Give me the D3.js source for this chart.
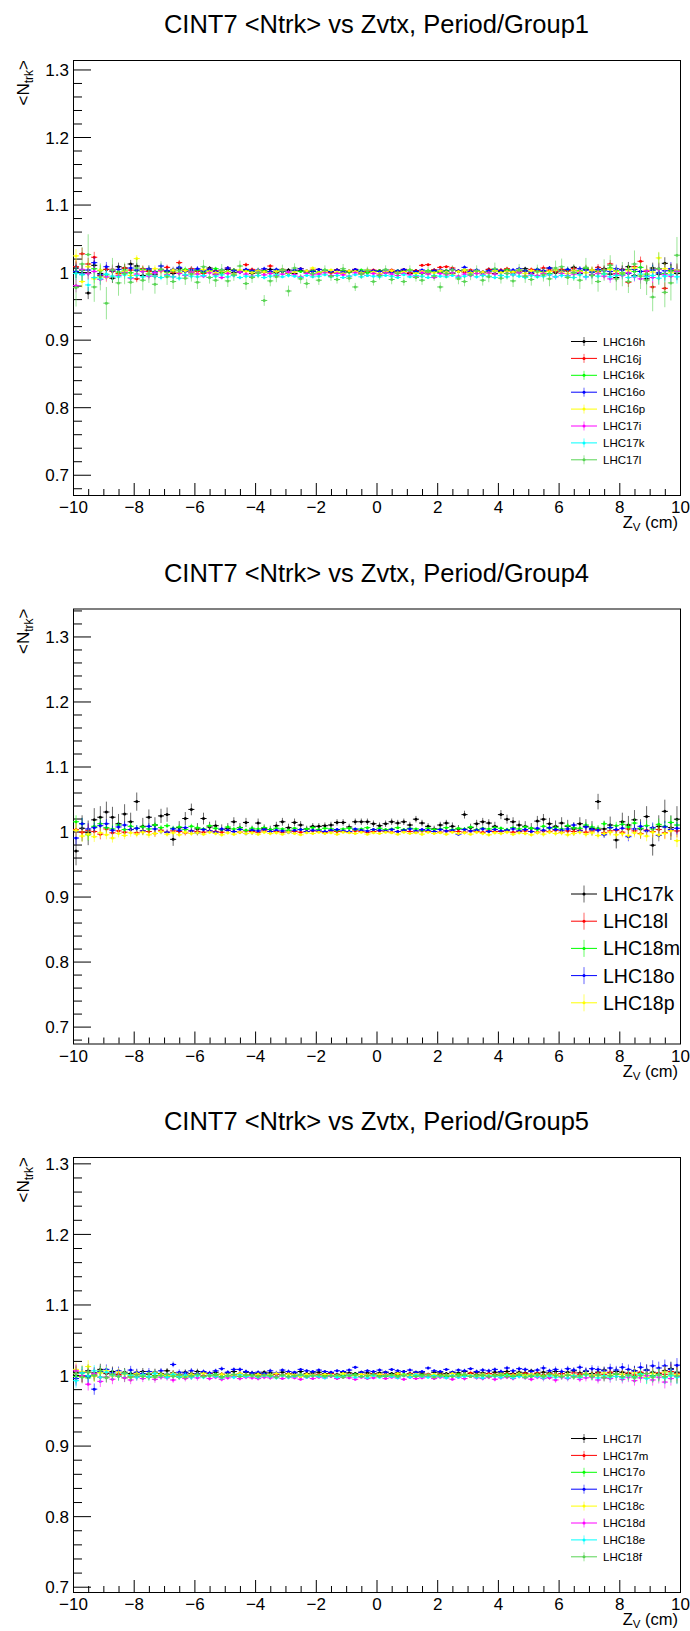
<!DOCTYPE html>
<html>
<head>
<meta charset="utf-8">
<script src="https://cdn.jsdelivr.net/npm/d3@7"></script>
<style>
  body { margin: 0; background: #fff; }
  svg { display: block; font-family: "Liberation Sans", Arial, Helvetica, sans-serif; }
</style>
</head>
<body>
<div id="chart"></div>
<script>
// Bin centres of the Zvtx histograms (cm)
const zBins = [
	-9.9, -9.7, -9.5, -9.3, -9.1, -8.9, -8.7, -8.5, -8.3, -8.1,
	-7.9, -7.7, -7.5, -7.3, -7.1, -6.9, -6.7, -6.5, -6.3, -6.1,
	-5.9, -5.7, -5.5, -5.3, -5.1, -4.9, -4.7, -4.5, -4.3, -4.1,
	-3.9, -3.7, -3.5, -3.3, -3.1, -2.9, -2.7, -2.5, -2.3, -2.1,
	-1.9, -1.7, -1.5, -1.3, -1.1, -0.9, -0.7, -0.5, -0.3, -0.1,
	0.1, 0.3, 0.5, 0.7, 0.9, 1.1, 1.3, 1.5, 1.7, 1.9,
	2.1, 2.3, 2.5, 2.7, 2.9, 3.1, 3.3, 3.5, 3.7, 3.9,
	4.1, 4.3, 4.5, 4.7, 4.9, 5.1, 5.3, 5.5, 5.7, 5.9,
	6.1, 6.3, 6.5, 6.7, 6.9, 7.1, 7.3, 7.5, 7.7, 7.9,
	8.1, 8.3, 8.5, 8.7, 8.9, 9.1, 9.3, 9.5, 9.7, 9.9
];
const binHalfWidth = 0.1;

const xMajorTicks = [-10, -8, -6, -4, -2, 0, 2, 4, 6, 8, 10];
const yMajorTicks = [0.7, 0.8, 0.9, 1.0, 1.1, 1.2, 1.3];

const seriesColors = ["#000000", "#ff0000", "#00ff00", "#0000ff", "#ffff00", "#ff00ff", "#00ffff", "#59d454"];

const titles = [
	"CINT7 <Ntrk> vs Zvtx, Period/Group1",
	"CINT7 <Ntrk> vs Zvtx, Period/Group4",
	"CINT7 <Ntrk> vs Zvtx, Period/Group5"
];
const yRanges = [[0.670, 1.314], [0.674, 1.343], [0.6925, 1.309]];

const names1 = ["LHC16h", "LHC16j", "LHC16k", "LHC16o", "LHC16p", "LHC17i", "LHC17k", "LHC17l"];
const names2 = ["LHC17k", "LHC18l", "LHC18m", "LHC18o", "LHC18p"];
const names3 = ["LHC17l", "LHC17m", "LHC17o", "LHC17r", "LHC18c", "LHC18d", "LHC18e", "LHC18f"];

// error bar sizes
const errSmall = [
	.010, .009, .009, .008, .008, .007, .007, .006, .006, .006,
	.005, .005, .005, .005, .004, .004, .004, .004, .004, .004,
	.004, .003, .003, .003, .003, .003, .003, .003, .003, .003,
	.003, .003, .003, .003, .002, .003, .002, .002, .002, .002,
	.002, .002, .002, .002, .002, .002, .002, .002, .002, .002,
	.002, .002, .002, .002, .002, .002, .002, .002, .002, .002,
	.002, .002, .002, .002, .003, .002, .003, .003, .003, .003,
	.003, .003, .003, .003, .003, .003, .003, .004, .003, .004,
	.004, .004, .004, .004, .005, .005, .005, .005, .006, .006,
	.006, .007, .007, .007, .008, .008, .009, .009, .010, .010
];
const errWide1 = [
	.028, .025, .030, .022, .020, .024, .018, .019, .016, .017,
	.014, .015, .013, .014, .012, .012, .011, .012, .010, .011,
	.010, .010, .009, .010, .009, .009, .009, .008, .009, .008,
	.008, .008, .008, .008, .007, .008, .007, .007, .007, .007,
	.007, .007, .007, .006, .007, .006, .006, .007, .006, .006,
	.006, .006, .007, .006, .006, .007, .006, .007, .007, .007,
	.007, .007, .007, .008, .007, .008, .008, .008, .008, .009,
	.008, .009, .009, .009, .010, .009, .010, .010, .011, .011,
	.012, .011, .012, .013, .014, .013, .015, .016, .015, .017,
	.018, .017, .020, .019, .022, .021, .024, .022, .026, .027
];
const errWide2 = [
	.022, .020, .019, .018, .017, .016, .016, .015, .015, .014,
	.014, .013, .012, .012, .011, .011, .010, .010, .010, .009,
	.009, .009, .008, .008, .008, .008, .007, .007, .007, .007,
	.007, .006, .006, .006, .006, .006, .006, .006, .005, .005,
	.005, .005, .005, .005, .005, .005, .005, .005, .005, .005,
	.005, .005, .005, .005, .005, .005, .005, .005, .005, .005,
	.005, .005, .006, .006, .006, .006, .006, .006, .006, .007,
	.007, .007, .007, .007, .008, .008, .008, .008, .009, .009,
	.009, .010, .010, .010, .011, .011, .012, .012, .013, .013,
	.014, .014, .015, .015, .016, .016, .017, .018, .019, .020
];

// ---- Period/Group1 ----
const p1_LHC16h = [
	1.006, 1.003, 0.969, 1.010, 0.998, 1.004, 0.991, 1.008, 1.006, 1.012,
	1.009, 0.995, 1.003, 0.997, 1.004, 1.001, 0.998, 1.005, 1.002, 0.999,
	1.003, 1.000, 1.006, 0.997, 1.002, 1.004, 0.999, 1.001, 1.003, 0.998,
	1.002, 1.000, 1.004, 0.999, 1.001, 1.003, 0.998, 1.002, 1.000, 1.001,
	0.999, 1.002, 1.000, 1.003, 0.998, 1.001, 1.002, 0.999, 1.000, 1.001,
	1.002, 0.999, 1.001, 1.000, 1.003, 0.998, 1.002, 1.001, 0.999, 1.003,
	1.000, 1.002, 0.998, 1.001, 1.003, 0.999, 1.002, 1.000, 1.004, 0.998,
	1.001, 1.003, 0.999, 1.002, 1.005, 0.998, 1.003, 1.001, 1.006, 0.999,
	1.003, 1.002, 1.007, 0.998, 1.004, 0.996, 1.001, 1.005, 0.997, 0.992,
	1.004, 1.008, 0.995, 1.001, 0.990, 1.006, 0.997, 1.013, 1.002, 0.998
];
const p1_LHC16j = [
	1.008, 1.027, 1.012, 1.022, 0.995, 1.004, 1.001, 0.998, 1.006, 1.003,
	0.990, 1.005, 1.001, 0.994, 1.003, 1.007, 1.000, 1.014, 1.002, 1.005,
	1.001, 0.998, 1.004, 1.002, 0.999, 1.006, 1.003, 1.001, 1.011, 1.004,
	0.999, 1.003, 1.009, 1.001, 1.004, 0.998, 1.002, 1.005, 1.000, 1.003,
	1.004, 1.001, 0.999, 1.003, 1.002, 1.000, 1.004, 0.998, 1.001, 1.003,
	1.002, 1.000, 1.003, 1.001, 1.004, 0.999, 1.002, 1.010, 1.011, 1.003,
	1.007, 1.008, 1.006, 1.002, 1.000, 1.003, 1.001, 0.999, 1.004, 1.002,
	1.003, 1.005, 1.000, 1.002, 1.001, 1.004, 1.002, 1.006, 1.003, 1.001,
	1.004, 1.002, 1.005, 1.001, 1.006, 1.003, 1.007, 1.004, 1.012, 0.998,
	1.004, 0.985, 1.008, 1.016, 1.001, 0.978, 1.005, 0.976, 1.003, 1.002
];
const p1_LHC16k = [
	1.001, 1.003, 0.998, 1.005, 1.002, 0.996, 1.004, 1.000, 1.003, 0.999,
	1.002, 1.004, 0.998, 1.001, 1.003, 1.000, 1.002, 0.999, 1.004, 1.001,
	1.003, 1.000, 1.002, 1.005, 0.999, 1.001, 1.003, 1.000, 1.002, 1.001,
	0.999, 1.002, 1.000, 1.003, 1.001, 0.998, 1.002, 1.001, 0.999, 1.002,
	1.000, 1.003, 1.001, 0.999, 1.002, 1.000, 1.001, 1.003, 0.999, 1.001,
	1.002, 1.000, 0.999, 1.002, 1.001, 1.003, 1.000, 0.998, 1.002, 1.001,
	1.000, 1.002, 0.999, 1.001, 1.003, 1.000, 1.002, 0.999, 1.001, 1.002,
	1.000, 1.003, 1.001, 0.999, 1.002, 1.000, 1.004, 1.001, 0.998, 1.003,
	1.001, 1.004, 0.999, 1.002, 1.005, 1.000, 1.003, 0.998, 1.006, 1.002,
	0.999, 1.004, 1.001, 1.007, 0.997, 1.003, 1.005, 0.998, 1.002, 1.000
];
const p1_LHC16o = [
	1.001, 0.997, 1.003, 1.014, 0.996, 1.008, 1.002, 1.004, 1.000, 1.006,
	1.003, 1.001, 1.005, 1.000, 1.009, 1.002, 1.004, 1.007, 1.001, 1.003,
	1.005, 1.002, 1.004, 1.001, 1.003, 1.006, 1.002, 1.000, 1.004, 1.002,
	1.003, 1.005, 1.001, 1.004, 1.002, 1.000, 1.003, 1.005, 1.002, 1.001,
	1.004, 1.002, 1.001, 1.003, 1.000, 1.002, 1.004, 1.001, 1.003, 1.002,
	1.001, 1.003, 1.000, 1.002, 1.004, 1.002, 1.001, 1.003, 1.000, 1.002,
	1.003, 1.001, 1.004, 1.002, 1.007, 1.001, 1.003, 1.000, 1.002, 1.004,
	1.002, 1.001, 1.003, 1.005, 1.002, 1.000, 1.004, 1.002, 1.006, 1.003,
	1.001, 1.004, 1.002, 1.005, 1.003, 1.000, 1.004, 1.002, 1.001, 1.005,
	1.003, 0.998, 1.004, 1.001, 0.994, 1.003, 0.999, 1.002, 1.005, 1.003
];
const p1_LHC16p = [
	1.024, 0.986, 1.008, 0.990, 1.003, 0.992, 1.004, 0.996, 1.001, 0.995,
	1.020, 1.002, 0.998, 1.005, 1.001, 0.997, 1.003, 0.999, 1.002, 1.000,
	0.998, 1.004, 1.001, 0.999, 1.002, 1.000, 0.997, 1.003, 1.001, 0.999,
	1.002, 1.000, 0.998, 1.001, 1.003, 0.999, 1.000, 0.992, 1.002, 1.006,
	0.999, 1.001, 1.003, 1.000, 0.998, 1.002, 1.001, 0.999, 1.003, 1.000,
	0.998, 1.001, 1.002, 0.999, 1.000, 1.003, 0.998, 1.001, 1.000, 0.999,
	1.002, 1.000, 0.997, 1.001, 1.003, 0.999, 1.001, 1.000, 0.998, 1.002,
	0.999, 1.001, 1.000, 1.003, 0.998, 1.002, 1.000, 0.999, 1.001, 1.003,
	1.000, 0.998, 1.002, 1.001, 0.999, 1.003, 1.000, 0.997, 1.004, 1.001,
	0.998, 1.002, 1.006, 0.996, 1.003, 1.000, 1.021, 1.005, 0.999, 1.003
];
const p1_LHC17i = [
	0.980, 1.004, 0.998, 1.001, 0.989, 0.993, 1.004, 0.995, 0.999, 0.991,
	0.997, 1.001, 0.994, 0.999, 1.002, 0.996, 0.993, 0.998, 0.995, 1.000,
	0.997, 0.994, 0.999, 0.996, 0.992, 0.998, 0.995, 1.000, 0.997, 0.994,
	0.999, 0.996, 0.998, 0.995, 0.997, 1.000, 0.996, 0.993, 0.998, 0.996,
	0.997, 0.999, 0.995, 0.998, 0.996, 0.994, 0.999, 0.997, 0.995, 0.998,
	0.996, 0.999, 0.997, 0.995, 0.998, 0.996, 0.994, 0.999, 0.997, 0.992,
	0.998, 0.996, 0.999, 0.994, 0.997, 0.995, 0.998, 0.996, 0.999, 0.997,
	0.995, 0.998, 0.996, 0.999, 0.994, 0.997, 0.995, 0.998, 0.996, 0.993,
	0.998, 0.995, 0.997, 0.999, 0.993, 0.996, 0.998, 0.994, 0.990, 0.997,
	0.995, 0.999, 0.993, 0.990, 1.002, 0.992, 1.004, 0.996, 0.994, 1.001
];
const p1_LHC17k = [
	0.998, 0.996, 0.981, 0.992, 0.990, 0.997, 0.994, 0.993, 0.996, 0.992,
	0.995, 0.993, 0.996, 0.994, 0.992, 0.995, 0.993, 0.991, 0.996, 0.994,
	0.993, 0.995, 0.992, 0.994, 0.996, 0.993, 0.995, 0.992, 0.994, 0.993,
	0.995, 0.992, 0.994, 0.996, 0.993, 0.995, 0.994, 0.992, 0.995, 0.993,
	0.994, 0.996, 0.993, 0.995, 0.992, 0.994, 0.996, 0.993, 0.995, 0.994,
	0.993, 0.995, 0.994, 0.992, 0.996, 0.993, 0.995, 0.994, 0.992, 0.995,
	0.994, 0.993, 0.995, 0.992, 0.994, 0.996, 0.993, 0.995, 0.994, 0.992,
	0.995, 0.993, 0.996, 0.994, 0.992, 0.995, 0.993, 0.994, 0.996, 0.993,
	0.995, 0.994, 0.992, 0.996, 0.993, 0.995, 0.994, 0.997, 0.993, 0.995,
	0.996, 0.992, 0.994, 0.997, 0.993, 0.995, 0.991, 0.994, 0.996, 0.993
];
const p1_LHC17l = [
	0.977, 1.012, 1.026, 0.978, 0.993, 0.954, 1.003, 0.984, 0.998, 0.985,
	1.006, 0.988, 0.997, 0.982, 1.004, 0.993, 0.986, 1.002, 0.991, 0.997,
	0.985, 1.008, 0.992, 0.988, 1.003, 0.987, 0.996, 1.009, 0.983, 0.992,
	0.999, 0.958, 0.987, 0.993, 1.004, 0.972, 1.006, 0.990, 0.983, 0.998,
	0.988, 1.003, 0.994, 0.989, 1.005, 0.991, 0.978, 0.997, 1.002, 0.986,
	0.995, 1.004, 0.989, 0.998, 0.986, 1.003, 0.992, 0.988, 1.001, 0.994,
	0.978, 0.998, 1.003, 0.990, 0.986, 0.996, 1.002, 0.988, 0.993, 1.005,
	0.991, 0.998, 0.987, 1.003, 0.994, 0.989, 1.001, 0.996, 0.990, 1.006,
	1.008, 0.992, 0.999, 0.988, 1.007, 0.995, 0.986, 1.003, 1.010, 0.990,
	0.997, 0.986, 1.012, 0.994, 0.988, 0.963, 1.005, 0.970, 0.984, 1.025
];

// ---- Period/Group4 ----
const p2_LHC17k = [
	0.970, 1.005, 0.998, 1.018, 1.022, 1.030, 1.022, 1.012, 1.027, 1.015,
	1.046, 1.008, 1.022, 1.010, 1.024, 1.026, 0.988, 1.006, 1.020, 1.034,
	1.004, 1.020, 1.007, 1.009, 1.003, 1.005, 1.015, 1.006, 1.014, 1.002,
	1.013, 1.005, 1.003, 1.009, 1.015, 1.006, 1.014, 1.010, 1.004, 1.008,
	1.008, 1.009, 1.010, 1.014, 1.014, 1.007, 1.015, 1.015, 1.015, 1.012,
	1.009, 1.012, 1.015, 1.013, 1.015, 1.010, 1.019, 1.013, 1.008, 1.004,
	1.010, 1.013, 1.008, 1.004, 1.026, 1.006, 1.012, 1.015, 1.013, 1.008,
	1.026, 1.019, 1.015, 1.010, 1.008, 1.005, 1.016, 1.019, 1.012, 1.008,
	1.013, 1.008, 1.004, 1.012, 1.008, 1.005, 1.046, 1.004, 1.010, 0.987,
	1.015, 1.010, 1.018, 1.004, 1.023, 0.979, 1.008, 1.031, 1.006, 1.019
];
const p2_LHC18l = [
	1.003, 0.999, 1.002, 1.000, 0.996, 1.004, 0.998, 1.001, 0.999, 1.003,
	0.998, 1.001, 1.000, 0.997, 1.002, 0.999, 1.001, 1.000, 0.998, 1.001,
	1.000, 0.999, 1.001, 1.000, 0.999, 1.002, 1.000, 0.999, 1.001, 1.000,
	0.999, 1.001, 1.000, 1.000, 0.999, 1.001, 1.000, 0.999, 1.000, 1.001,
	1.000, 0.999, 1.001, 1.000, 1.000, 0.999, 1.001, 1.000, 0.999, 1.000,
	1.001, 1.000, 0.999, 1.000, 1.001, 1.000, 0.999, 1.001, 1.000, 1.000,
	0.999, 1.001, 1.000, 1.000, 0.999, 1.001, 1.000, 0.999, 1.001, 1.000,
	1.000, 1.001, 0.999, 1.000, 1.001, 1.000, 0.999, 1.001, 1.000, 1.002,
	0.999, 1.001, 1.000, 1.002, 0.999, 1.001, 1.003, 0.998, 1.001, 1.002,
	0.999, 1.004, 1.001, 0.997, 1.002, 1.000, 1.003, 0.998, 1.002, 1.001
];
const p2_LHC18m = [
	1.015, 1.012, 0.995, 1.008, 1.012, 1.006, 1.004, 1.010, 1.003, 1.008,
	1.005, 1.007, 1.004, 1.010, 1.006, 1.009, 1.005, 1.007, 1.003, 1.008,
	1.006, 1.004, 1.009, 1.005, 1.003, 1.007, 1.004, 1.006, 1.002, 1.005,
	1.004, 1.006, 1.003, 1.005, 1.004, 1.002, 1.005, 1.003, 1.004, 1.006,
	1.003, 1.005, 1.004, 1.002, 1.004, 1.005, 1.003, 1.004, 1.006, 1.003,
	1.005, 1.003, 1.004, 1.006, 1.003, 1.005, 1.004, 1.002, 1.005, 1.003,
	1.004, 1.006, 1.003, 1.005, 1.004, 1.007, 1.003, 1.005, 1.004, 1.006,
	1.005, 1.003, 1.006, 1.004, 1.007, 1.005, 1.003, 1.008, 1.005, 1.006,
	1.004, 1.009, 1.006, 1.005, 1.010, 1.007, 1.005, 1.012, 1.006, 1.009,
	1.011, 1.007, 1.013, 1.005, 1.009, 1.004, 1.011, 1.008, 1.014, 1.010
];
const p2_LHC18o = [
	0.990, 1.012, 1.004, 1.006, 1.009, 1.012, 1.002, 1.007, 1.010, 1.003,
	1.005, 1.001, 1.008, 1.004, 1.000, 0.999, 1.004, 1.002, 1.006, 1.001,
	0.998, 1.003, 1.001, 0.999, 1.004, 1.002, 1.000, 1.003, 0.997, 1.002,
	1.001, 1.003, 1.000, 1.002, 1.001, 0.999, 1.002, 1.003, 1.000, 1.002,
	1.001, 1.000, 1.002, 1.003, 1.001, 1.000, 1.004, 1.002, 1.001, 1.003,
	1.002, 1.001, 1.003, 1.000, 1.002, 1.004, 1.001, 1.003, 1.002, 1.000,
	1.003, 1.001, 1.002, 0.996, 1.003, 1.001, 1.002, 1.004, 1.000, 1.003,
	1.001, 1.002, 1.004, 1.001, 1.003, 1.000, 1.005, 1.002, 1.006, 1.003,
	1.002, 1.004, 1.010, 1.001, 1.007, 1.003, 1.002, 0.995, 1.006, 1.003,
	1.005, 0.992, 1.004, 1.008, 1.001, 1.006, 0.994, 1.007, 1.003, 1.005
];
const p2_LHC18p = [
	1.002, 0.993, 0.996, 0.992, 0.998, 0.995, 0.990, 0.997, 0.994, 0.998,
	0.996, 0.999, 0.995, 0.997, 1.000, 0.996, 0.998, 0.995, 0.999, 0.997,
	0.998, 0.996, 0.999, 0.997, 0.995, 0.998, 0.996, 0.999, 0.997, 0.998,
	0.996, 0.999, 0.997, 0.998, 0.996, 0.999, 0.997, 0.995, 0.998, 0.997,
	0.999, 0.997, 0.998, 0.996, 0.999, 0.998, 0.997, 0.999, 0.996, 0.998,
	0.997, 0.999, 0.998, 0.996, 0.999, 0.997, 0.998, 0.996, 0.999, 0.997,
	0.998, 0.996, 0.999, 0.997, 0.998, 0.996, 0.999, 0.997, 0.995, 0.998,
	0.997, 0.999, 0.996, 0.998, 0.997, 0.995, 0.998, 0.996, 0.999, 0.997,
	0.998, 0.995, 0.997, 0.999, 0.996, 0.998, 0.994, 0.997, 0.999, 0.995,
	0.997, 0.994, 0.998, 0.996, 0.993, 0.999, 0.995, 0.997, 1.001, 0.986
];

// ---- Period/Group5 ----
const p3_LHC17l = [
	1.004, 0.999, 1.006, 1.003, 1.008, 1.002, 1.005, 1.001, 1.004, 1.002,
	1.003, 1.005, 1.001, 1.004, 1.002, 1.006, 1.003, 1.001, 1.004, 1.002,
	1.005, 1.003, 1.002, 1.004, 1.001, 1.003, 1.005, 1.002, 1.004, 1.003,
	1.002, 1.004, 1.003, 1.001, 1.004, 1.002, 1.003, 1.005, 1.002, 1.003,
	1.004, 1.002, 1.003, 1.001, 1.004, 1.003, 1.002, 1.004, 1.003, 1.002,
	1.003, 1.004, 1.002, 1.003, 1.005, 1.002, 1.004, 1.003, 1.001, 1.004,
	1.003, 1.002, 1.004, 1.003, 1.005, 1.002, 1.004, 1.003, 1.002, 1.004,
	1.003, 1.005, 1.002, 1.004, 1.003, 1.006, 1.002, 1.004, 1.003, 1.005,
	1.002, 1.004, 1.006, 1.003, 1.005, 1.002, 1.004, 1.007, 1.003, 1.005,
	1.004, 1.002, 1.006, 1.003, 1.007, 1.004, 1.002, 1.006, 1.009, 1.004
];
const p3_LHC17m = [
	1.002, 0.998, 1.004, 1.000, 0.997, 1.003, 0.999, 1.001, 1.002, 0.998,
	1.001, 1.000, 1.002, 0.999, 1.001, 1.000, 1.002, 0.999, 1.001, 1.000,
	1.001, 0.999, 1.002, 1.000, 1.001, 0.999, 1.000, 1.002, 1.000, 1.001,
	1.000, 1.001, 0.999, 1.001, 1.000, 1.002, 1.000, 0.999, 1.001, 1.000,
	1.001, 1.000, 1.002, 1.000, 0.999, 1.001, 1.000, 1.001, 1.000, 1.002,
	1.000, 1.001, 0.999, 1.001, 1.000, 1.002, 1.001, 1.000, 1.001, 0.999,
	1.001, 1.000, 1.002, 1.001, 1.000, 1.003, 1.001, 1.000, 1.002, 1.001,
	1.000, 1.002, 1.001, 1.000, 1.002, 1.001, 1.003, 1.000, 1.002, 1.001,
	1.002, 1.000, 1.003, 1.001, 1.002, 1.000, 1.003, 1.001, 1.004, 1.002,
	1.001, 1.003, 1.000, 1.004, 1.002, 0.999, 1.003, 1.001, 1.005, 1.002
];
const p3_LHC17o = [
	0.998, 1.003, 0.996, 1.000, 1.004, 0.997, 1.001, 0.999, 0.996, 1.000,
	0.998, 1.000, 0.997, 0.999, 1.001, 0.998, 1.000, 0.997, 0.999, 0.998,
	1.000, 0.998, 0.999, 1.001, 0.998, 0.999, 1.000, 0.998, 0.999, 1.000,
	0.998, 0.999, 1.000, 0.998, 0.999, 1.001, 0.999, 0.998, 1.000, 0.999,
	0.998, 1.000, 0.999, 0.998, 1.000, 0.999, 1.001, 0.998, 0.999, 1.000,
	0.999, 0.998, 1.000, 0.999, 1.001, 0.998, 0.999, 1.000, 0.998, 0.999,
	1.000, 0.998, 0.999, 1.001, 0.999, 0.998, 1.000, 0.999, 0.998, 1.000,
	0.999, 1.001, 0.998, 0.999, 1.000, 0.998, 1.001, 0.999, 0.997, 1.000,
	0.998, 1.000, 0.999, 0.997, 1.001, 0.998, 1.000, 0.996, 0.999, 1.001,
	0.997, 1.000, 0.998, 1.002, 0.996, 0.999, 1.001, 0.997, 1.000, 0.998
];
const p3_LHC17r = [
	0.995, 1.004, 0.998, 0.980, 1.005, 1.008, 1.003, 1.006, 1.002, 1.007,
	1.004, 1.002, 1.005, 1.003, 1.006, 1.001, 1.015, 1.004, 1.003, 1.006,
	1.002, 1.005, 1.003, 1.006, 1.009, 1.004, 1.008, 1.008, 1.005, 1.003,
	1.004, 1.002, 1.006, 1.003, 1.007, 1.005, 1.004, 1.008, 1.006, 1.005,
	1.007, 1.005, 1.004, 1.006, 1.005, 1.007, 1.011, 1.004, 1.006, 1.005,
	1.007, 1.004, 1.008, 1.006, 1.005, 1.007, 1.004, 1.005, 1.010, 1.006,
	1.005, 1.008, 1.004, 1.007, 1.006, 1.009, 1.005, 1.007, 1.006, 1.008,
	1.005, 1.010, 1.006, 1.009, 1.008, 1.005, 1.007, 1.010, 1.006, 1.008,
	1.005, 1.009, 1.007, 1.011, 1.006, 1.009, 1.008, 1.006, 1.010, 1.007,
	1.011, 1.008, 1.006, 1.011, 1.007, 1.013, 1.010, 1.013, 1.008, 1.014
];
const p3_LHC18c = [
	1.008, 1.005, 1.012, 0.998, 1.003, 1.006, 0.999, 1.004, 1.001, 0.997,
	1.002, 1.000, 0.998, 1.003, 1.001, 0.999, 1.002, 1.000, 0.998, 1.001,
	0.999, 1.002, 1.000, 0.998, 1.001, 1.000, 0.999, 1.002, 1.000, 0.999,
	1.001, 0.999, 1.000, 1.002, 0.999, 1.001, 1.000, 0.998, 1.001, 1.000,
	0.999, 1.001, 1.000, 0.999, 1.002, 1.000, 0.999, 1.001, 1.000, 0.998,
	1.001, 1.000, 0.999, 1.002, 1.000, 0.999, 1.001, 0.998, 1.000, 1.001,
	0.999, 1.000, 1.002, 0.999, 1.001, 1.000, 0.998, 1.001, 1.000, 0.999,
	1.001, 0.999, 1.000, 1.002, 0.999, 1.001, 1.000, 0.998, 1.001, 1.000,
	0.999, 1.001, 1.000, 0.998, 1.002, 1.000, 0.999, 1.003, 1.000, 0.998,
	1.001, 0.999, 1.003, 1.000, 0.997, 1.002, 1.000, 1.004, 0.999, 1.001
];
const p3_LHC18d = [
	1.006, 0.999, 0.987, 1.002, 0.991, 0.997, 0.994, 0.999, 0.996, 0.993,
	0.997, 0.995, 0.998, 0.994, 0.997, 0.996, 0.993, 0.998, 0.995, 0.997,
	0.996, 0.998, 0.995, 0.997, 0.994, 0.996, 0.998, 0.995, 0.997, 0.996,
	0.995, 0.997, 0.996, 0.998, 0.995, 0.997, 0.996, 0.994, 0.997, 0.995,
	0.997, 0.996, 0.998, 0.995, 0.997, 0.996, 0.994, 0.997, 0.995, 0.996,
	0.998, 0.995, 0.997, 0.996, 0.994, 0.997, 0.995, 0.996, 0.998, 0.995,
	0.997, 0.996, 0.994, 0.997, 0.995, 0.998, 0.996, 0.995, 0.997, 0.994,
	0.996, 0.997, 0.995, 0.998, 0.996, 0.994, 0.997, 0.995, 0.996, 0.993,
	0.997, 0.995, 0.998, 0.994, 0.996, 0.997, 0.993, 0.996, 0.995, 0.998,
	0.994, 0.997, 0.992, 0.996, 0.999, 0.993, 0.997, 0.990, 0.995, 0.998
];
const p3_LHC18e = [
	0.992, 1.003, 0.999, 1.006, 0.997, 1.004, 1.000, 0.998, 1.002, 0.999,
	0.997, 1.000, 0.998, 1.002, 0.999, 0.997, 1.001, 0.998, 1.000, 0.997,
	0.999, 0.997, 1.000, 0.998, 0.996, 0.999, 0.997, 1.000, 0.998, 0.999,
	0.997, 0.999, 0.998, 0.996, 0.999, 0.997, 0.998, 1.000, 0.997, 0.999,
	0.998, 0.996, 0.999, 0.997, 0.998, 1.000, 0.997, 0.998, 0.996, 0.999,
	0.997, 0.999, 0.998, 0.996, 0.999, 0.997, 1.000, 0.998, 0.997, 0.999,
	0.998, 0.996, 0.999, 0.997, 0.998, 0.999, 0.997, 0.996, 0.999, 0.998,
	0.997, 0.999, 0.996, 0.998, 0.997, 0.999, 0.998, 0.996, 0.999, 0.997,
	0.998, 0.996, 0.999, 0.997, 1.000, 0.998, 0.996, 0.999, 0.997, 0.998,
	0.996, 0.999, 0.997, 1.001, 0.995, 0.998, 1.000, 0.996, 0.999, 0.997
];
const p3_LHC18f = [
	1.002, 0.997, 1.004, 0.999, 1.006, 0.996, 1.001, 0.998, 1.003, 0.997,
	1.000, 0.998, 1.002, 0.997, 0.999, 1.001, 0.998, 1.000, 0.997, 0.999,
	1.001, 0.998, 0.999, 1.000, 0.997, 0.999, 1.001, 0.998, 1.000, 0.999,
	0.998, 1.000, 0.999, 0.997, 1.000, 0.998, 0.999, 1.001, 0.998, 0.999,
	1.000, 0.998, 0.999, 1.000, 0.997, 0.999, 1.000, 0.998, 0.999, 1.001,
	0.998, 0.999, 1.000, 0.998, 0.999, 1.001, 0.998, 0.999, 1.000, 0.997,
	0.999, 1.000, 0.998, 0.999, 1.001, 0.998, 0.999, 1.000, 0.998, 0.999,
	1.000, 0.998, 0.999, 1.001, 0.997, 0.999, 1.000, 0.998, 1.001, 0.999,
	0.998, 1.000, 0.997, 0.999, 1.001, 0.998, 1.000, 0.997, 0.999, 1.002,
	0.998, 1.000, 0.996, 0.999, 1.002, 0.997, 1.000, 0.998, 1.003, 0.999
];

// Assemble panels
const panels = [
	{
		title: titles[0], yRange: yRanges[0], names: names1, big: false,
		values: [p1_LHC16h, p1_LHC16j, p1_LHC16k, p1_LHC16o, p1_LHC16p, p1_LHC17i, p1_LHC17k, p1_LHC17l],
		errors: [errSmall, errSmall, errSmall, errSmall, errSmall, errSmall, errSmall, errWide1]
	},
	{
		title: titles[1], yRange: yRanges[1], names: names2, big: true,
		values: [p2_LHC17k, p2_LHC18l, p2_LHC18m, p2_LHC18o, p2_LHC18p],
		errors: [errWide2, errSmall, errSmall, errSmall, errSmall]
	},
	{
		title: titles[2], yRange: yRanges[2], names: names3, big: false,
		values: [p3_LHC17l, p3_LHC17m, p3_LHC17o, p3_LHC17r, p3_LHC18c, p3_LHC18d, p3_LHC18e, p3_LHC18f],
		errors: [errSmall, errSmall, errSmall, errSmall, errSmall, errSmall, errSmall, errSmall]
	}
];

const W = 690, H = 1631;
const padStep = 548.5;
const frame = { left: 73, right: 680, top: 60, bottom: 495 };
const minus = (v) => (v < 0 ? "\u2212" + Math.abs(v) : String(v));

const svg = d3.select("#chart").append("svg")
	.attr("width", W)
	.attr("height", H)
	.attr("viewBox", [0, 0, W, H]);

svg.append("rect").attr("width", W).attr("height", H).attr("fill", "#fff");

panels.forEach((p, pi) => {
	const g = svg.append("g").attr("transform", `translate(0,${pi * padStep})`);

	const x = d3.scaleLinear().domain([-10, 10]).range([frame.left, frame.right]);
	const y = d3.scaleLinear().domain(p.yRange).range([frame.bottom, frame.top]);

	// Title
	g.append("text")
		.attr("x", (frame.left + frame.right) / 2)
		.attr("y", 33)
		.attr("text-anchor", "middle")
		.attr("font-size", 25.5)
		.attr("fill", "#000")
		.text(p.title);

	// X axis: minor then major ticks, drawn inward
	const xMinor = d3.range(-10, 10.01, 0.5).filter((v) => !xMajorTicks.includes(v));
	g.append("g")
		.attr("transform", `translate(0,${frame.bottom})`)
		.call(d3.axisBottom(x).tickValues(xMinor).tickSize(-6).tickFormat(""))
		.call((a) => a.select(".domain").remove());
	const xAxis = g.append("g")
		.attr("transform", `translate(0,${frame.bottom})`)
		.call(d3.axisBottom(x).tickValues(xMajorTicks).tickSize(-12).tickPadding(0).tickFormat(minus));
	xAxis.select(".domain").remove();
	xAxis.selectAll("text")
		.attr("y", 18)
		.attr("dy", 0)
		.attr("font-size", 17)
		.attr("font-family", null)
		.attr("fill", "#000");

	// Y axis
	const yMinor = d3.range(0, 80).map((k) => +(0.6 + k * 0.02).toFixed(2))
		.filter((v) => v >= p.yRange[0] && v <= p.yRange[1] && !yMajorTicks.some((t) => Math.abs(t - v) < 1e-6));
	g.append("g")
		.attr("transform", `translate(${frame.left},0)`)
		.call(d3.axisLeft(y).tickValues(yMinor).tickSize(-9).tickFormat(""))
		.call((a) => a.select(".domain").remove());
	const yAxis = g.append("g")
		.attr("transform", `translate(${frame.left},0)`)
		.call(d3.axisLeft(y).tickValues(yMajorTicks).tickSize(-18).tickPadding(0).tickFormat((v) => (v === 1 ? "1" : d3.format(".1f")(v))));
	yAxis.select(".domain").remove();
	yAxis.selectAll("text")
		.attr("x", -4)
		.attr("dy", "0.36em")
		.attr("font-size", 17)
		.attr("font-family", null)
		.attr("fill", "#000");
	g.selectAll(".tick line").attr("stroke", "#000");

	// Frame
	g.append("rect")
		.attr("x", frame.left + 0.5)
		.attr("y", frame.top + 0.5)
		.attr("width", frame.right - frame.left)
		.attr("height", frame.bottom - frame.top)
		.attr("fill", "none")
		.attr("stroke", "#000");

	// Axis titles
	const yt = g.append("text")
		.attr("transform", `translate(29,${frame.top}) rotate(-90)`)
		.attr("text-anchor", "end")
		.attr("font-size", 17)
		.attr("fill", "#000");
	yt.append("tspan").text("<N");
	yt.append("tspan").attr("font-size", 12).attr("dy", 4).text("trk");
	yt.append("tspan").attr("dy", -4).text(">");

	const xt = g.append("text")
		.attr("x", 678)
		.attr("y", 528)
		.attr("text-anchor", "end")
		.attr("font-size", 16.5)
		.attr("fill", "#000");
	xt.append("tspan").text("Z");
	xt.append("tspan").attr("font-size", 11.5).attr("dy", 3).text("V");
	xt.append("tspan").attr("dy", -3).text(" (cm)");

	// Data points with error bars
	const plot = g.append("g");
	p.values.forEach((vals, si) => {
		const color = seriesColors[si];
		const errs = p.errors[si];
		const pts = plot.append("g").selectAll("g")
			.data(zBins.map((z, i) => ({ z, v: vals[i], e: errs[i] })))
			.join("g");
		pts.append("line")
			.attr("x1", (d) => x(d.z - binHalfWidth))
			.attr("x2", (d) => x(d.z + binHalfWidth))
			.attr("y1", (d) => y(d.v))
			.attr("y2", (d) => y(d.v))
			.attr("stroke", color);
		pts.append("line")
			.attr("x1", (d) => x(d.z))
			.attr("x2", (d) => x(d.z))
			.attr("y1", (d) => y(d.v - d.e))
			.attr("y2", (d) => y(d.v + d.e))
			.attr("stroke", color)
			.attr("stroke-opacity", 0.6);
		pts.append("circle")
			.attr("cx", (d) => x(d.z))
			.attr("cy", (d) => y(d.v))
			.attr("r", 1.5)
			.attr("fill", color);
	});

	// Legend
	const step = p.big ? 27.2 : 16.9;
	const first = p.big ? 345.5 : 341.5;
	const bar = p.big ? 8.5 : 4.5;
	const leg = g.append("g").selectAll("g")
		.data(p.names)
		.join("g")
		.attr("transform", (d, i) => `translate(0,${first + i * step})`);
	leg.append("line")
		.attr("x1", 571).attr("x2", 597)
		.attr("stroke", (d, i) => seriesColors[i]);
	leg.append("line")
		.attr("x1", 584).attr("x2", 584)
		.attr("y1", -bar).attr("y2", bar)
		.attr("stroke", (d, i) => seriesColors[i])
		.attr("stroke-opacity", 0.6);
	leg.append("circle")
		.attr("cx", 584).attr("r", 1.5)
		.attr("fill", (d, i) => seriesColors[i]);
	leg.append("text")
		.attr("x", 603)
		.attr("dy", "0.36em")
		.attr("font-size", p.big ? 19.5 : 11.5)
		.attr("fill", "#000")
		.text((d) => d);
});
</script>
</body>
</html>
